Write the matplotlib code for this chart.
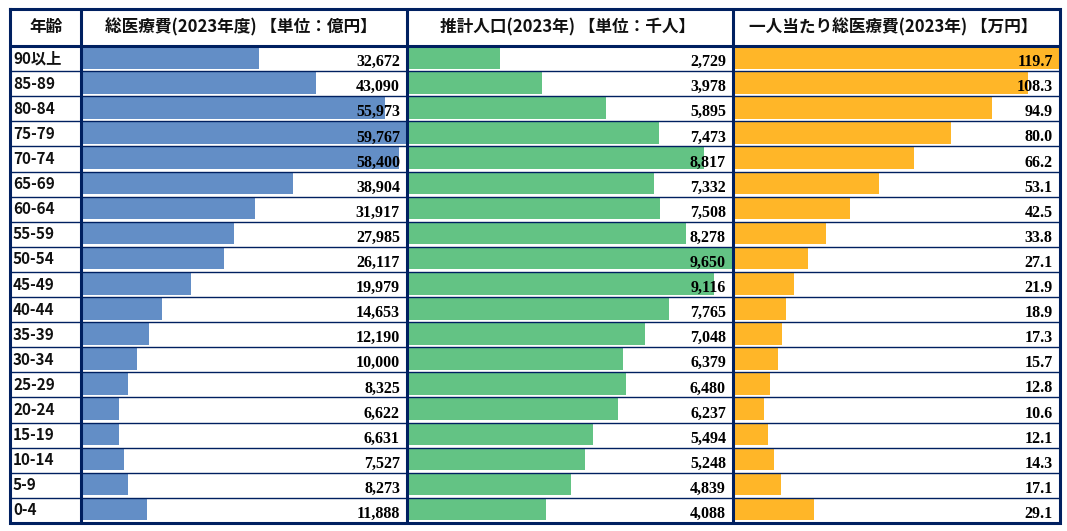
import matplotlib
matplotlib.use("Agg")
import matplotlib.pyplot as plt
from matplotlib.transforms import blended_transform_factory

# ---------------- data ----------------
ages = ['90以上', '85-89', '80-84', '75-79', '70-74', '65-69', '60-64', '55-59',
        '50-54', '45-49', '40-44', '35-39', '30-34', '25-29', '20-24', '15-19',
        '10-14', '5-9', '0-4']
cost = [32672, 43090, 55973, 59767, 58400, 38904, 31917, 27985, 26117, 19979,
        14653, 12190, 10000, 8325, 6622, 6631, 7527, 8273, 11888]
pop = [2729, 3978, 5895, 7473, 8817, 7332, 7508, 8278, 9650, 9116,
       7765, 7048, 6379, 6480, 6237, 5494, 5248, 4839, 4088]
per_capita = [119.7, 108.3, 94.9, 80.0, 66.2, 53.1, 42.5, 33.8, 27.1, 21.9,
              18.9, 17.3, 15.7, 12.8, 10.6, 12.1, 14.3, 17.1, 29.1]
headers = ['年齢', '総医療費(2023年度) 【単位：億円】', '推計人口(2023年) 【単位：千人】',
           '一人当たり総医療費(2023年) 【万円】']

# ---------------- style / layout ----------------
W, H = 1067, 531
NAVY = '#002060'
COLORS = ['#638EC6', '#63C384', '#FFB628']
CJK = ['Noto Sans CJK JP', 'DejaVu Sans']
SERIF = ['Liberation Serif', 'DejaVu Serif']

left, right, top, bottom = 10, 1060, 8.7, 523
head_bot = 46
col_x = [left, 81, 407.3, 733.3, right]
n = len(ages)
row_h = (bottom - head_bot) / n

fig = plt.figure(figsize=(W / 100, H / 100), dpi=100)
fig.patch.set_facecolor('white')


def rect(x0, y0, x1, y1):
    return [x0 / W, 1 - y1 / H, (x1 - x0) / W, (y1 - y0) / H]


series = [cost, pop, per_capita]
fmts = ['{:,.0f}', '{:,.0f}', '{:.1f}']
for k, (vals, fmt, col) in enumerate(zip(series, fmts, COLORS)):
    x0 = col_x[k + 1] + 1.8
    x1 = col_x[k + 2] - 1.3
    ax = fig.add_axes(rect(x0, head_bot, x1, bottom))
    ypos = list(range(n))
    ax.barh([y - 0.04 for y in ypos], vals, height=0.88, color=col, zorder=1)
    ax.set_xlim(0, max(vals))
    ax.set_ylim(n - 0.5, -0.5)
    ax.axis('off')
    tr = blended_transform_factory(ax.transAxes, ax.transData)
    xr = 1 - 6.0 / (x1 - x0)
    for y, v in zip(ypos, vals):
        ax.text(xr, y + 0.3, fmt.format(v), transform=tr, ha='right',
                va='baseline', fontsize=11.5, fontweight='bold',
                family=SERIF, color='black', zorder=3)

# overlay for table lines and text
ov = fig.add_axes([0, 0, 1, 1], zorder=10)
ov.set_xlim(0, W)
ov.set_ylim(H, 0)
ov.axis('off')
ov.patch.set_alpha(0)

# row lines
for i in range(1, n):
    y = head_bot + i * row_h
    ov.plot([left, right], [y, y], color=NAVY, lw=1.0, solid_capstyle='butt')
# header bottom
ov.plot([left, right], [head_bot - 0.5, head_bot - 0.5], color=NAVY, lw=2.2,
        solid_capstyle='butt')
# column separators
for x in col_x[1:-1]:
    ov.plot([x, x], [top, bottom], color=NAVY, lw=2.2, solid_capstyle='butt')
# outer border
ov.plot([left, right, right, left, left], [top, top, bottom, bottom, top],
        color=NAVY, lw=2.2, solid_joinstyle='miter', solid_capstyle='projecting')

# headers
for j, h in enumerate(headers):
    cx = (col_x[j] + col_x[j + 1]) / 2 - (3 if j > 0 else 0)
    ov.text(cx, (top + head_bot) / 2, h, ha='center', va='center',
            fontsize=12, fontweight='bold', family=CJK, color='#111111')

# age labels
for i, a in enumerate(ages):
    cy = head_bot + (i + 0.5) * row_h
    ov.text(13, cy, a, ha='left', va='center', fontsize=11,
            fontweight='bold', family=CJK, color='#111111')

fig.savefig('out.png', dpi=100, facecolor='white')
